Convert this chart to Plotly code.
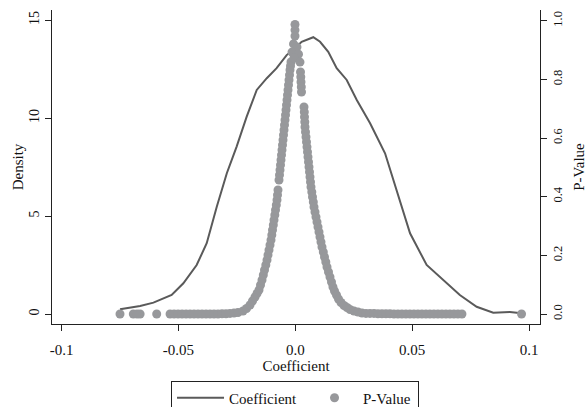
import plotly.graph_objects as go

# Kernel density of the coefficient (left axis)
coef_x = [-0.0750, -0.0664, -0.0607, -0.0529, -0.0479, -0.0422, -0.0379, -0.0336, -0.0293,
          -0.0251, -0.0208, -0.0165, -0.0122, -0.0080, -0.0037, -0.0001, 0.0027, 0.0063,
          0.0077, 0.0106, 0.0141, 0.0177, 0.0220, 0.0263, 0.0320, 0.0384, 0.0434, 0.0491,
          0.0562, 0.0633, 0.0704, 0.0776, 0.0847, 0.0918, 0.0968]
coef_density = [0.24, 0.41, 0.58, 0.97, 1.57, 2.50, 3.61, 5.47, 7.18,
                8.54, 10.07, 11.43, 12.03, 12.54, 13.21, 13.56, 13.89, 14.07,
                14.12, 13.89, 13.38, 12.54, 11.94, 10.92, 9.73, 8.20, 6.33, 4.12,
                2.50, 1.73, 0.97, 0.37, 0.07, 0.10, 0.04]

# P-values against coefficient estimates (right axis)
left_tail_x = [-0.0750, -0.0693, -0.0677, -0.0664, -0.0593,
               -0.05359, -0.05188, -0.05017, -0.04846, -0.04675, -0.04504, -0.04333,
               -0.04162, -0.03991, -0.03820, -0.03649, -0.03478, -0.03307, -0.03135,
               -0.02964, -0.02793, -0.02622, -0.02451]
left_tail_p = [0.000, 0.000, 0.000, 0.000, 0.000,
               0.000, 0.000, 0.000, 0.000, 0.000, 0.000, 0.000,
               0.000, 0.000, 0.000, 0.000, 0.000, 0.000, 0.001,
               0.001, 0.002, 0.003, 0.005]

left_branch_x = [-0.02237, -0.02087, -0.01938, -0.01831, -0.01724, -0.01638, -0.01553,
                 -0.01488, -0.01424, -0.01369, -0.01317, -0.01262, -0.01210, -0.01168,
                 -0.01125, -0.01082, -0.01039, -0.01005, -0.00975, -0.00941, -0.00911,
                 -0.00877, -0.00847, -0.00813, -0.00783, -0.00761, -0.00740, -0.00697,
                 -0.00676, -0.00654, -0.00633, -0.00612, -0.00590, -0.00569, -0.00547,
                 -0.00526, -0.00505, -0.00483, -0.00462, -0.00441, -0.00419, -0.00398,
                 -0.00376, -0.00355, -0.00334, -0.00312, -0.00291, -0.00269, -0.00248,
                 -0.00227, -0.00205, -0.00184]
left_branch_p = [0.0102, 0.0188, 0.0307, 0.0443, 0.0580, 0.0699, 0.0818,
                 0.0989, 0.1159, 0.1330, 0.1500, 0.1671, 0.1841, 0.2012,
                 0.2182, 0.2353, 0.2523, 0.2693, 0.2864, 0.3034, 0.3205,
                 0.3375, 0.3546, 0.3716, 0.3887, 0.4057, 0.4228, 0.4569,
                 0.4739, 0.4910, 0.5080, 0.5251, 0.5421, 0.5592, 0.5762,
                 0.5932, 0.6103, 0.6273, 0.6444, 0.6614, 0.6785, 0.6955,
                 0.7126, 0.7296, 0.7467, 0.7637, 0.7808, 0.7978, 0.8149,
                 0.8319, 0.8456, 0.8592]

top_x = [-0.00013, -0.00013, -0.00013, -0.00077, 0.00073, -0.00141, 0.00137, -0.00056, 0.00201]
top_p = [0.987, 0.968, 0.948, 0.921, 0.910, 0.893, 0.886, 0.873, 0.859]

right_branch_x = [0.00222, 0.00235, 0.00244, 0.00257, 0.00265,
                  0.00372, 0.00385, 0.00393, 0.00406, 0.00415, 0.00436, 0.00458, 0.00479,
                  0.00500, 0.00522, 0.00543, 0.00565, 0.00586, 0.00607, 0.00629, 0.00650,
                  0.00672, 0.00706, 0.00736, 0.00770, 0.00800, 0.00843, 0.00885, 0.00928,
                  0.00971, 0.01014, 0.01056, 0.01099, 0.01142, 0.01198, 0.01249, 0.01305,
                  0.01356, 0.01420, 0.01484, 0.01548, 0.01612, 0.01677, 0.01762, 0.01848,
                  0.01955, 0.02083, 0.02211, 0.02340, 0.02511, 0.02682, 0.02853]
right_branch_p = [0.8251, 0.8080, 0.7910, 0.7740, 0.7569,
                  0.7058, 0.6887, 0.6717, 0.6546, 0.6376, 0.6205, 0.6035, 0.5864,
                  0.5694, 0.5523, 0.5353, 0.5182, 0.5012, 0.4841, 0.4671, 0.4501,
                  0.4330, 0.4160, 0.3989, 0.3819, 0.3648, 0.3478, 0.3307, 0.3137,
                  0.2966, 0.2796, 0.2625, 0.2455, 0.2284, 0.2114, 0.1943, 0.1773,
                  0.1602, 0.1432, 0.1262, 0.1091, 0.0921, 0.0784, 0.0648, 0.0511,
                  0.0392, 0.0290, 0.0222, 0.0153, 0.0102, 0.0068, 0.0034]

right_tail_x = [0.03024, 0.03195, 0.03366, 0.03537, 0.03708, 0.03879, 0.04050, 0.04221,
                0.04392, 0.04563, 0.04734, 0.04906, 0.05077, 0.05248, 0.05419, 0.05590,
                0.05761, 0.05932, 0.06103, 0.06275, 0.06446, 0.06617, 0.06788, 0.06959,
                0.07130, 0.0968]
right_tail_p = [0.002, 0.002, 0.002, 0.001, 0.001, 0.001, 0.001, 0.000,
                0.000, 0.000, 0.000, 0.000, 0.000, 0.000, 0.000, 0.000,
                0.000, 0.000, 0.000, 0.000, 0.000, 0.000, 0.000, 0.000,
                0.000, 0.000]

pv_x = left_tail_x + left_branch_x + top_x + right_branch_x + right_tail_x
pv_p = left_tail_p + left_branch_p + top_p + right_branch_p + right_tail_p

x_tickvals = [-0.1, -0.05, 0.0, 0.05, 0.1]
x_ticktext = ["-0.1", "-0.05", "0.0", "0.05", "0.1"]
y_tickvals = [0, 5, 10, 15]
y2_tickvals = [0.0, 0.2, 0.4, 0.6, 0.8, 1.0]

FONT = "Liberation Serif"
AX = "#222222"

fig = go.Figure()
fig.add_trace(go.Scatter(x=coef_x, y=coef_density, mode="lines", name="Coefficient",
                         line=dict(color="#5a5a5a", width=2), yaxis="y",
                         legendwidth=72))
fig.add_trace(go.Scatter(x=pv_x, y=pv_p, mode="markers", name="P-Value",
                         marker=dict(color="#97989b", size=9, line=dict(width=0)),
                         yaxis="y2", legendwidth=50))

fig.update_layout(
    width=587, height=407,
    margin=dict(l=52, r=47, t=10, b=83, autoexpand=False),
    paper_bgcolor="white", plot_bgcolor="white",
    font=dict(family=FONT, size=15, color="#111111"),
    xaxis=dict(range=[-0.1041, 0.1047], tickvals=x_tickvals, ticktext=x_ticktext,
               showgrid=False, zeroline=False, showline=True, linecolor=AX, linewidth=1,
               ticks="outside", ticklen=6, tickcolor=AX, ticklabelstandoff=6,
               tickfont=dict(size=15),
               title=dict(text="Coefficient", standoff=0, font=dict(size=15))),
    yaxis=dict(range=[-0.51, 15.51], tickvals=y_tickvals, tickangle=-90,
               showgrid=False, zeroline=False, showline=True, linecolor=AX, linewidth=1,
               ticks="outside", ticklen=6, tickcolor=AX, tickfont=dict(size=14),
               title=dict(text="Density", standoff=0, font=dict(size=15))),
    yaxis2=dict(range=[-0.0341, 1.0365], tickvals=y2_tickvals, tickformat=".1f",
                tickangle=-90, overlaying="y", side="right",
                showgrid=False, zeroline=False, showline=True, linecolor=AX, linewidth=1,
                ticks="outside", ticklen=6, tickcolor=AX, tickfont=dict(size=12.5),
                title=dict(text="P-Value", standoff=10, font=dict(size=15))),
    legend=dict(orientation="h", x=0.498, xanchor="center", y=-0.18, yanchor="top",
                bordercolor="#222222", borderwidth=1, bgcolor="white", itemwidth=47,
                font=dict(family=FONT, size=15)),
    showlegend=True,
)

fig.write_html("out.html", post_script="document.body.style.margin='0px';",
               config={"displayModeBar": False})
